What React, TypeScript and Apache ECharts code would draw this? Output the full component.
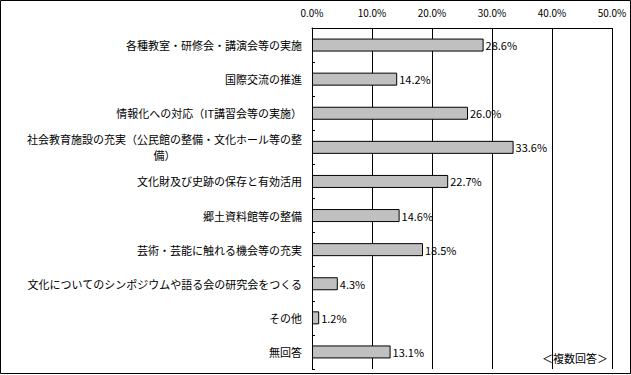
import React, { useEffect, useRef } from "react";
import * as echarts from "echarts";

const categories = [
  "各種教室・研修会・講演会等の実施",
  "国際交流の推進",
  "情報化への対応（IT講習会等の実施）",
  "社会教育施設の充実（公民館の整備・文化ホール等の整備）",
  "文化財及び史跡の保存と有効活用",
  "郷土資料館等の整備",
  "芸術・芸能に触れる機会等の充実",
  "文化についてのシンポジウムや語る会の研究会をつくる",
  "その他",
  "無回答",
];
const values = [28.6, 14.2, 26.0, 33.6, 22.7, 14.6, 18.5, 4.3, 1.2, 13.1];
const axisMin = 0;
const axisMax = 50;
const axisStep = 10;
const note = "＜複数回答＞";

const FONT = "'Noto Sans CJK JP', 'Noto Sans', sans-serif";

function wrapLabel(s: string): string {
  const max = 25;
  if (s.length <= max) return s;
  const a = s.slice(0, max);
  const b = s.slice(max);
  return a + "\n" + b + "\u3000".repeat(12);
}

export default function App() {
  const ref = useRef<HTMLDivElement>(null);
  useEffect(() => {
    document.body.style.margin = "0";
    if (!ref.current) return;
    const chart = echarts.init(ref.current, null, { renderer: "svg" });
    chart.setOption({
      animation: false,
      backgroundColor: "#ffffff",
      textStyle: { fontFamily: FONT },
      grid: { left: 312, right: 19, top: 28, bottom: 6, containLabel: false },
      xAxis: {
        type: "value",
        position: "top",
        min: axisMin,
        max: axisMax,
        interval: axisStep,
        axisLine: { show: true, lineStyle: { color: "#000", width: 1 } },
        axisTick: { show: false },
        axisLabel: {
          color: "#000",
          fontSize: 10,
          fontFamily: FONT,
          margin: 11,
          formatter: (v: number) => v.toFixed(1) + "%",
        },
        splitLine: { show: true, lineStyle: { color: "#000", width: 1 } },
      },
      yAxis: {
        type: "category",
        inverse: true,
        data: categories,
        axisLine: { show: true, lineStyle: { color: "#000", width: 1 } },
        axisTick: { show: true, inside: true, length: 3, lineStyle: { color: "#000" } },
        axisLabel: {
          color: "#000",
          fontSize: 11,
          fontFamily: FONT,
          margin: 10,
          lineHeight: 16,
          formatter: (v: string) => wrapLabel(v),
        },
      },
      series: [
        {
          type: "bar",
          data: values,
          barWidth: 13,
          itemStyle: { color: "#c0c0c0", borderColor: "#000", borderWidth: 1 },
          label: {
            show: true,
            position: "right",
            distance: 2,
            color: "#000",
            fontSize: 11,
            fontFamily: FONT,
            formatter: (p: any) => Number(p.value).toFixed(1) + "%",
          },
        },
      ],
      graphic: [
        {
          type: "rect",
          shape: { x: 0.5, y: 0.5, width: 630, height: 373 },
          style: { fill: "none", stroke: "#000", lineWidth: 1 },
          silent: true,
        },
        {
          type: "text",
          x: 608,
          y: 358,
          style: {
            text: note,
            align: "right",
            verticalAlign: "middle",
            fill: "#000",
            fontSize: 11,
            fontFamily: FONT,
          },
        },
      ],
    });
    return () => chart.dispose();
  }, []);
  return <div ref={ref} style={{ width: 631, height: 375 }} />;
}
